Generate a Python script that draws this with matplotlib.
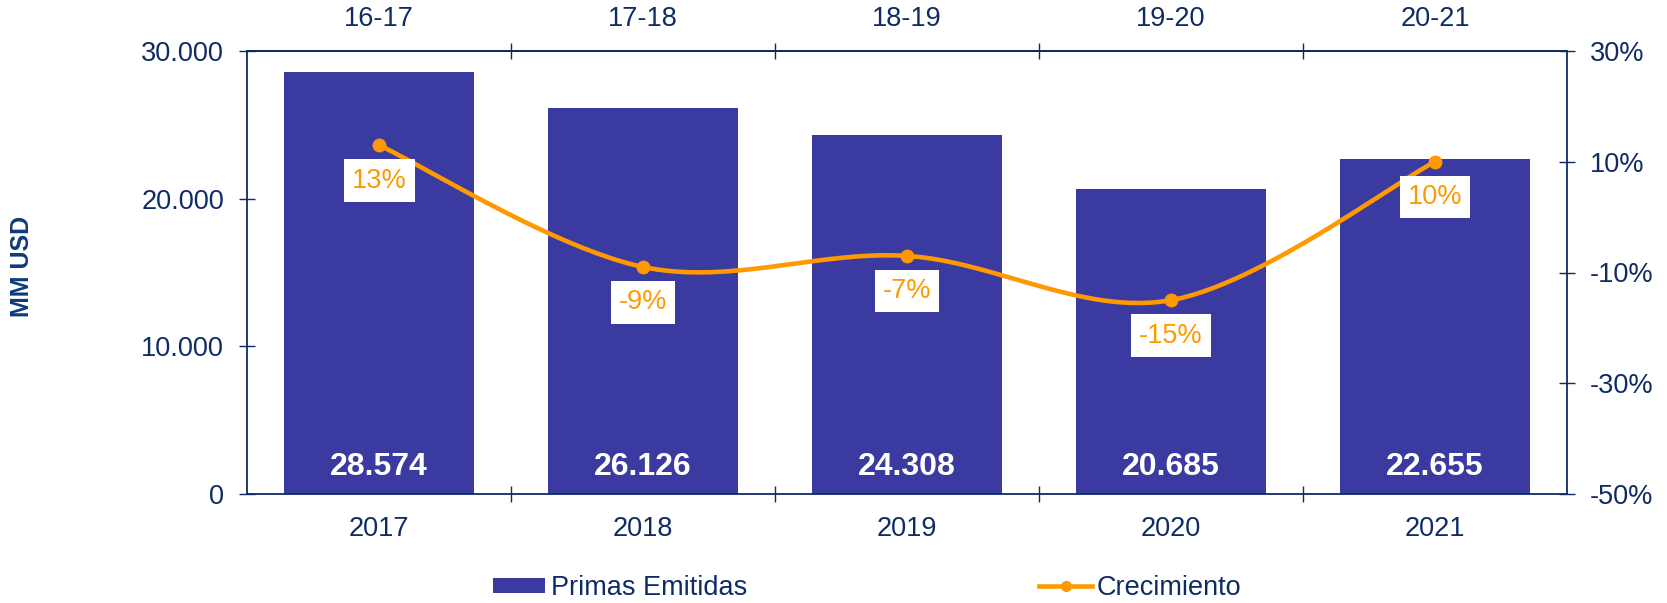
import numpy as np
import matplotlib
matplotlib.use("Agg")
import matplotlib.pyplot as plt
from matplotlib.lines import Line2D
from matplotlib.patches import Patch

plt.rcParams['font.family'] = ['Liberation Sans', 'DejaVu Sans']

# data
years = ["2017", "2018", "2019", "2020", "2021"]
periods = ["16-17", "17-18", "18-19", "19-20", "20-21"]
primas = [28574, 26126, 24308, 20685, 22655]
crecimiento = [0.13, -0.09, -0.07, -0.15, 0.10]
crec_labels = ["13%", "-9%", "-7%", "-15%", "10%"]

navy = "#0E2B63"
bar_col = "#3A3AA0"
orange = "#FF9900"
fs = 19.5


def smooth_curve(xs, ys, n=60):
    # bezier segments with catmull-rom style control points (like excel smoothed line)
    pts = np.column_stack([xs, ys]).astype(float)
    out = []
    for i in range(len(pts) - 1):
        p0 = pts[i - 1] if i > 0 else pts[i]
        p1 = pts[i]
        p2 = pts[i + 1]
        p3 = pts[i + 2] if i + 2 < len(pts) else pts[i + 1]
        c1 = p1 + (p2 - p0) / 6.0
        c2 = p2 - (p3 - p1) / 6.0
        t = np.linspace(0, 1, n)[:, None]
        seg = ((1 - t) ** 3) * p1 + 3 * ((1 - t) ** 2) * t * c1 + 3 * (1 - t) * t ** 2 * c2 + t ** 3 * p2
        out.append(seg)
    out = np.vstack(out)
    return out[:, 0], out[:, 1]


fig = plt.figure(figsize=(16.67, 6.03), dpi=100)
ax = fig.add_axes([247 / 1667, 1 - 494 / 603, (1567 - 247) / 1667, (494 - 51) / 603])

x = np.arange(len(years))
ax.bar(x, primas, width=0.716, color=bar_col, zorder=2)
for xi, v in zip(x, primas):
    ax.text(xi, 1850, f"{v:,}".replace(",", "."), ha="center", va="center",
            color="white", fontsize=23, fontweight="bold", zorder=3)

ax.set_xlim(-0.5, 4.5)
ax.set_ylim(0, 30000)
ax.set_yticks([0, 10000, 20000, 30000])
ax.set_yticklabels(["0", "10.000", "20.000", "30.000"])
ax.set_xticks(x)
ax.set_xticklabels(years)
ax.set_xticks(np.arange(0.5, 4.5, 1), minor=True)
ax.tick_params(axis="x", which="major", length=0, pad=16, labelsize=fs, labelcolor=navy)
ax.tick_params(axis="x", which="minor", length=11, direction="inout", color=navy, width=1)
ax.tick_params(axis="y", length=11, direction="inout", color=navy, width=1,
               pad=11, labelsize=fs, labelcolor=navy)

for s in ["left", "bottom", "top", "right"]:
    ax.spines[s].set_color(navy)
    ax.spines[s].set_linewidth(1.3)

# top axis with periods
top = ax.secondary_xaxis("top")
top.set_xticks(x)
top.set_xticklabels(periods)
top.set_xticks(np.arange(0.5, 4.5, 1), minor=True)
top.tick_params(axis="x", which="major", length=0, pad=14, labelsize=fs, labelcolor=navy)
top.tick_params(axis="x", which="minor", length=11, direction="inout", color=navy, width=1)
top.spines["top"].set_color(navy)
top.spines["top"].set_linewidth(1.3)

# growth line on right axis
ax2 = ax.twinx()
ax2.set_ylim(-0.5, 0.3)
ax2.set_yticks([-0.5, -0.3, -0.1, 0.1, 0.3])
ax2.set_yticklabels(["-50%", "-30%", "-10%", "10%", "30%"])
ax2.tick_params(axis="y", length=11, direction="inout", color=navy, width=1,
                pad=11, labelsize=fs, labelcolor=navy)
for s in ax2.spines.values():
    s.set_visible(False)

sx, sy = smooth_curve(x, crecimiento)
ax2.plot(sx, sy, color=orange, lw=3.3, solid_capstyle="round", zorder=4)
ax2.plot(x, crecimiento, "o", color=orange, ms=9, zorder=5)
for xi, v, lab in zip(x, crecimiento, crec_labels):
    ax2.annotate(lab, (xi, v), xytext=(0, -25.5), textcoords="offset points",
                 ha="center", va="center", fontsize=fs, color=orange, zorder=6,
                 bbox=dict(boxstyle="square,pad=0.3", fc="white", ec="none"))

fig.text(22 / 1667, 1 - 266 / 603, "MM USD", rotation=90, ha="center", va="center",
         fontsize=18, fontweight="bold", color="#0D3B7A")

handles = [Patch(facecolor=bar_col, edgecolor="none"),
           Line2D([0], [0], color=orange, lw=3.3, marker="o", ms=7)]
fig.legend(handles, ["Primas Emitidas", "Crecimiento"], loc="center left",
           bbox_to_anchor=(493 / 1667, 1 - 588 / 603), ncol=2, frameon=False,
           fontsize=fs, labelcolor=navy, handlelength=1.93, handleheight=0.5,
           handletextpad=0.2, columnspacing=10.8, borderpad=0, borderaxespad=0)

fig.savefig("out.png", dpi=100)
